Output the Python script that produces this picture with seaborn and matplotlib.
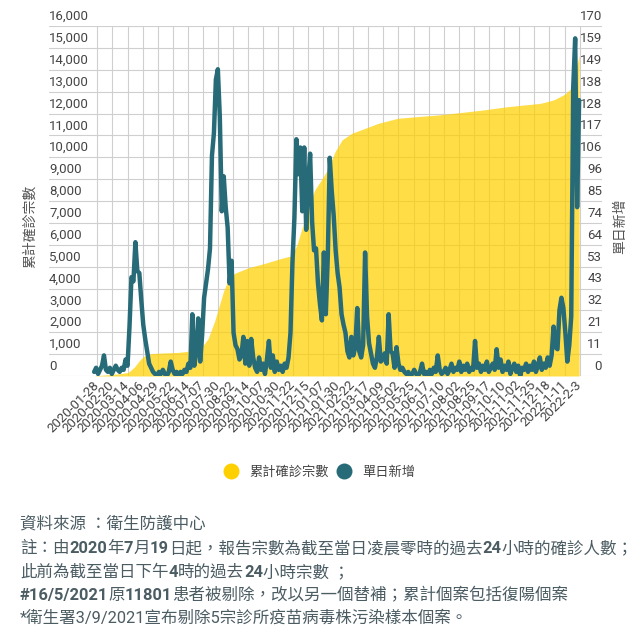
import seaborn as sns
import pandas as pd
import matplotlib.pyplot as plt
from matplotlib.lines import Line2D

# x tick labels (one every 23 days, as in the source chart)
tick_labels = ['2020-01-28', '2020-02-20', '2020-03-14', '2020-04-06', '2020-04-29',
               '2020-05-22', '2020-06-14', '2020-07-07', '2020-07-30', '2020-08-22',
               '2020-09-14', '2020-10-07', '2020-10-30', '2020-11-22', '2020-12-15',
               '2021-01-07', '2021-01-30', '2021-02-22', '2021-03-17', '2021-04-09',
               '2021-05-02', '2021-05-25', '2021-06-17', '2021-07-10', '2021-08-02',
               '2021-08-25', '2021-09-17', '2021-10-10', '2021-11-02', '2021-11-25',
               '2021-12-18', '2022-1-11', '2022-2-3']

left_ticks = [0, 1000, 2000, 3000, 4000, 5000, 6000, 7000, 8000, 9000, 10000,
              11000, 12000, 13000, 14000, 15000, 16000]
right_labels = ['0', '11', '21', '32', '43', '53', '64', '74', '85', '96', '106',
                '117', '128', '138', '149', '159', '170']

# daily new cases, read every 3 days starting 2020-01-23
daily_new = [2, 4, 1, 3, 5, 10, 3, 2, 4, 1, 3, 5, 3, 2, 4, 3, 8,
             5, 24, 48, 46, 65, 51, 50, 37, 25, 18, 12, 6, 4, 2, 1,
             0, 2, 1, 3, 1, 0, 2, 7, 3, 1, 2, 0, 2, 1, 3, 2, 6, 4,
             30, 5, 12, 28, 7, 20, 38, 45, 52, 62,
             107, 118, 144, 149, 126, 80, 97, 82, 72, 45, 56, 21,
             15, 13, 8, 10, 19, 6, 17, 5, 18, 9, 4, 2, 9, 3, 6, 1, 8, 17, 4, 10,
             2, 7, 3, 5, 2, 6, 4, 9,
             21, 55, 77, 115, 98, 111, 80, 111, 71, 94, 108, 75, 61, 62, 45, 35,
             27, 60, 30, 58,
             106, 90, 78, 61, 50, 43, 30, 25, 21, 12, 9, 19, 10, 14, 33, 12, 9, 15,
             60, 29, 16, 11, 6, 4, 9, 19, 7, 8, 11, 6, 30, 12, 11, 4, 14, 6, 3, 4,
             2, 1, 2, 0, 1, 3, 1, 0, 2, 6, 1, 2, 0, 3, 1, 4, 2, 10, 3, 1, 2,
             4, 1, 3, 6, 2, 4, 3, 7, 2, 5, 3, 6, 2, 4, 3, 17, 4, 6, 2, 5,
             3, 7, 2, 4, 6, 3, 13, 4, 8, 2, 5, 3, 7, 1, 4, 6, 2, 5, 0, 4,
             3, 6, 2, 5, 3, 7, 2, 5, 9, 3, 6, 4, 9, 5, 10,
             24, 14, 13, 32, 38, 33, 21, 7, 15, 29, 140, 164, 82, 134]

# cumulative confirmed cases
cum_dates = ['2020-01-23', '2020-03-01', '2020-03-15', '2020-03-25', '2020-04-01',
             '2020-04-07', '2020-04-15', '2020-04-25', '2020-05-31', '2020-06-20',
             '2020-07-05', '2020-07-15', '2020-07-25', '2020-08-01', '2020-08-08',
             '2020-08-15', '2020-08-25', '2020-09-15', '2020-10-10', '2020-11-01',
             '2020-11-20', '2020-11-28', '2020-12-05', '2020-12-15', '2020-12-25',
             '2021-01-05', '2021-01-15', '2021-01-25', '2021-02-05', '2021-02-20',
             '2021-03-10', '2021-04-01', '2021-05-01', '2021-06-01', '2021-07-01',
             '2021-08-01', '2021-09-08', '2021-10-15', '2021-12-05', '2021-12-25',
             '2022-01-04', '2022-01-12', '2022-01-19', '2022-01-23', '2022-01-27',
             '2022-02-01', '2022-02-02']
cum_total = [5, 100, 160, 425, 700, 880, 1000, 1035, 1080, 1150,
             1300, 1700, 2500, 3200, 3900, 4400, 4700, 4950, 5150, 5350,
             5500, 6000, 6700, 7600, 8500, 9000, 9500, 10250, 10800, 11100,
             11300, 11550, 11780, 11860, 11930, 12030, 12160, 12310, 12465, 12620,
             12770, 12900, 13100, 13400, 13840, 14520, 14650]

daily = pd.DataFrame({'date': pd.date_range('2020-01-23', periods=len(daily_new), freq='3D'),
                      'cases': daily_new})
cum = pd.DataFrame({'date': pd.to_datetime(cum_dates), 'total': cum_total})

sns.set_style('white')
plt.rcParams['font.family'] = ['Roboto', 'Noto Sans CJK TC', 'DejaVu Sans']
cjk = ['Noto Sans CJK TC', 'DejaVu Sans']

yellow = '#ffd000'
teal = '#276b78'
text_c = '#444444'
note_c = '#4b5c63'

fig = plt.figure(figsize=(6.43, 6.35), dpi=100)
ax = fig.add_axes([49 / 643, 1 - 376 / 635, 553 / 643, 350 / 635])
ax.fill_between(cum['date'], cum['total'], color=yellow, alpha=0.72, linewidth=0, zorder=2)

ax2 = ax.twinx()
sns.lineplot(data=daily, x='date', y='cases', ax=ax2, color=teal, linewidth=3.2)
ax2.set_ylim(0, 170)
ax2.set_yticks([])
ax2.set_ylabel('')
ax2.set_xlabel('')
for s in ax2.spines.values():
    s.set_visible(False)

ax.set_ylim(0, 16000)
ax.set_xlim(pd.Timestamp('2019-11-15'), pd.Timestamp('2022-03-09'))
ax.set_yticks(left_ticks)
ax.set_yticklabels([])
ax.set_xticks([pd.Timestamp(s) for s in tick_labels])
ax.set_xticklabels(tick_labels, rotation=45, ha='right', va='center',
                   rotation_mode='anchor', fontsize=9.5, color=text_c)
ax.tick_params(axis='both', length=0)
ax.tick_params(axis='x', pad=5)
ax.grid(True, color='#cfcfcf', linewidth=0.8)
ax.set_axisbelow(True)
ax.set_xlabel('')
ax.set_ylabel('')
for s in ax.spines.values():
    s.set_visible(False)

# tick labels sit just above the grid lines
for v, lab in zip(left_ticks, right_labels):
    ax.annotate(f'{v:,}', xy=(0, v), xycoords=('axes fraction', 'data'), xytext=(0, 3),
                textcoords='offset pixels', ha='left', va='bottom', fontsize=9.5,
                color=text_c, annotation_clip=False)
    ax.annotate(lab, xy=(1, v), xycoords=('axes fraction', 'data'), xytext=(0, 3),
                textcoords='offset pixels', ha='right', va='bottom', fontsize=9.5,
                color=text_c, annotation_clip=False)

fig.text(30 / 643, 1 - 226 / 635, '累計確診宗數', rotation=90, ha='center', va='center',
         fontsize=10, color='#555555', family=cjk)
fig.text(620 / 643, 1 - 226 / 635, '單日新增', rotation=90, ha='center', va='center',
         fontsize=10, color='#555555', family=cjk)

handles = [Line2D([], [], marker='o', linestyle='', markersize=11.5, markerfacecolor=yellow,
                  markeredgewidth=0),
           Line2D([], [], marker='o', linestyle='', markersize=11.5, markerfacecolor=teal,
                  markeredgewidth=0)]
fig.legend(handles, ['累計確診宗數', '單日新增'], loc='center',
           bbox_to_anchor=(320 / 643, 1 - 472 / 635), ncol=2, frameon=False,
           prop={'family': cjk, 'size': 9.5}, labelcolor=text_c,
           handletextpad=0.9, columnspacing=0.6, handlelength=1.0)

# footnote, with bold number runs
notes = [
    [('資料來源 ：衛生防護中心', False)],
    [('註：由', False), ('2020', True), ('年', False), ('7', True), ('月', False),
     ('19', True), ('日起，報告宗數為截至當日凌晨零時的過去', False), ('24', True),
     ('小時的確診人數；', False)],
    [('此前為截至當日下午', False), ('4', True), ('時的過去', False), ('24', True),
     ('小時宗數 ；', False)],
    [('#16/5/2021', True), ('原', False), ('11801', True),
     ('患者被剔除，改以另一個替補；累計個案包括復陽個案', False)],
    [('*衛生署3/9/2021宣布剔除5宗診所疫苗病毒株污染樣本個案。', False)],
]
note_bottoms = [532, 556, 580, 603, 626]

fax = fig.add_axes([0, 0, 1, 1])
fax.axis('off')
for y_px, parts in zip(note_bottoms, notes):
    prev = None
    for s, bold in parts:
        kw = dict(fontsize=11.9, color=note_c, fontweight='bold' if bold else 'normal',
                  ha='left', va='bottom', annotation_clip=False)
        if prev is None:
            prev = fax.annotate(s, xy=(20, 635 - y_px), xycoords='figure pixels', **kw)
        else:
            prev = fax.annotate(s, xy=(1, 0), xycoords=prev, **kw)

fig.savefig('out.png', dpi=100)
